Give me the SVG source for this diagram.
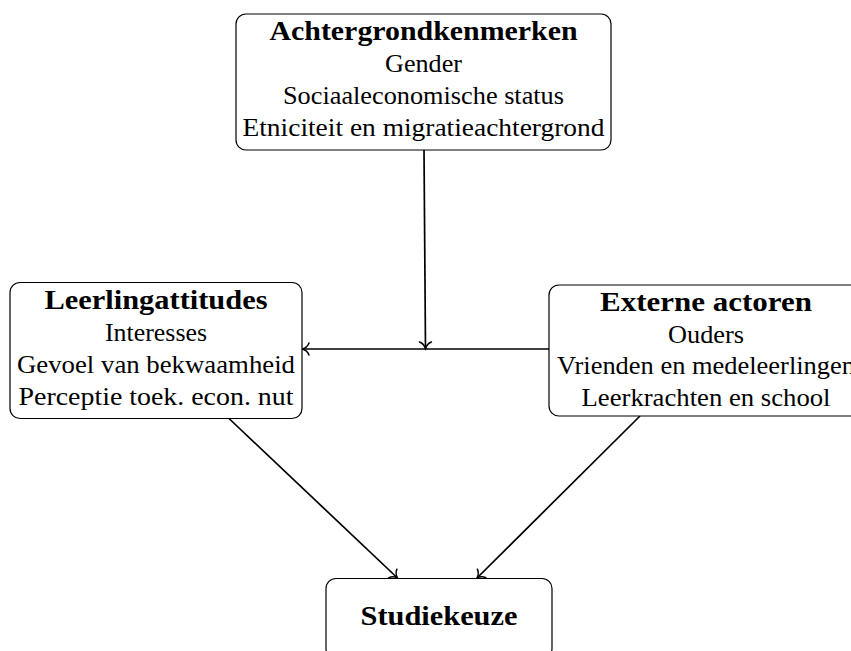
<svg xmlns="http://www.w3.org/2000/svg" width="851" height="651" viewBox="0 0 851 651">
<style>
.box{fill:#fff;stroke:#000;stroke-width:1.2}
.t{font-family:"Liberation Serif","Times New Roman",serif;font-size:26px;fill:#000;text-anchor:middle}
.b{font-weight:bold;font-size:27px}
.c{fill:none;stroke:#000;stroke-width:1.7}
</style>
<defs>
<marker id="ah" markerUnits="userSpaceOnUse" markerWidth="16" markerHeight="16" viewBox="-8 -8 16 16" refX="0" refY="0" orient="auto" overflow="visible">
<path d="M-6.5,-6 C-5.2,-2.4 -2.2,-0.7 0,0 C-2.2,0.7 -5.2,2.4 -6.5,6" fill="none" stroke="#000" stroke-width="1.5" stroke-linecap="round"/>
</marker>
</defs>
<g id="connectors">
<path class="c" d="M424,150 L425.5,348.5" marker-end="url(#ah)"/>
<path class="c" d="M549,349 L302.5,349" marker-end="url(#ah)"/>
<path class="c" d="M229,418.5 L397.5,578" marker-end="url(#ah)"/>
<path class="c" d="M640,416 L477,578" marker-end="url(#ah)"/>
</g>
<g id="achtergrond">
<rect class="box" x="236" y="14" width="375" height="136" rx="10"/>
<text class="t b" x="423.5" y="40" textLength="308" lengthAdjust="spacingAndGlyphs">Achtergrondkenmerken</text>
<text class="t" x="423.5" y="72" textLength="77" lengthAdjust="spacingAndGlyphs">Gender</text>
<text class="t" x="423.5" y="104" textLength="281" lengthAdjust="spacingAndGlyphs">Sociaaleconomische status</text>
<text class="t" x="423.5" y="136" textLength="362" lengthAdjust="spacingAndGlyphs">Etniciteit en migratieachtergrond</text>
</g>
<g id="leerling">
<rect class="box" x="10" y="282.5" width="292" height="136" rx="10"/>
<text class="t b" x="156" y="308.5" textLength="223" lengthAdjust="spacingAndGlyphs">Leerlingattitudes</text>
<text class="t" x="156" y="340.5" textLength="102" lengthAdjust="spacingAndGlyphs">Interesses</text>
<text class="t" x="156" y="372.5" textLength="278" lengthAdjust="spacingAndGlyphs">Gevoel van bekwaamheid</text>
<text class="t" x="156" y="404.5" textLength="275" lengthAdjust="spacingAndGlyphs">Perceptie toek. econ. nut</text>
</g>
<g id="extern">
<rect class="box" x="549" y="285" width="314" height="131" rx="10"/>
<text class="t b" x="706" y="311" textLength="212" lengthAdjust="spacingAndGlyphs">Externe actoren</text>
<text class="t" x="706" y="343" textLength="76" lengthAdjust="spacingAndGlyphs">Ouders</text>
<text class="t" x="706" y="374" textLength="298" lengthAdjust="spacingAndGlyphs">Vrienden en medeleerlingen</text>
<text class="t" x="706" y="406" textLength="249" lengthAdjust="spacingAndGlyphs">Leerkrachten en school</text>
</g>
<g id="studiekeuze">
<rect class="box" x="326" y="578.5" width="226" height="80" rx="10"/>
<text class="t b" x="439" y="625" textLength="157" lengthAdjust="spacingAndGlyphs">Studiekeuze</text>
</g>
</svg>
